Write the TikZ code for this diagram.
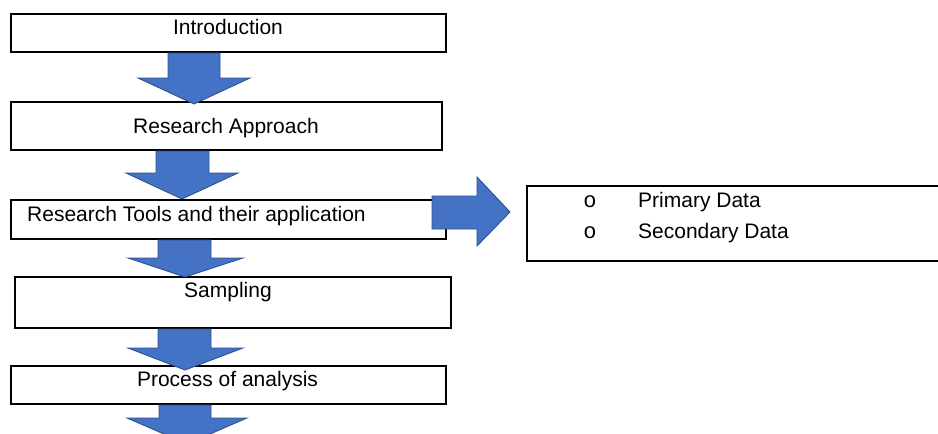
\documentclass[tikz,border=0pt]{standalone}
\usepackage{fontspec}
\setmainfont{Liberation Sans}
\newfontfamily\bulletfont{Liberation Mono}
\definecolor{arrowfill}{HTML}{4472C4}
\definecolor{arrowedge}{HTML}{2F528F}
\tikzset{
  stagebox/.style={draw=black, line width=1.6pt, fill=white},
  blockarrow/.style={fill=arrowfill, draw=arrowedge, line width=0.9pt, line join=miter},
  lbl/.style={inner sep=0pt, font=\fontsize{21}{25}\selectfont},
  bul/.style={inner sep=0pt, font=\bulletfont\fontsize{22}{25}\selectfont}
}
\begin{document}
\begin{tikzpicture}[x=1pt,y=-1pt]
\useasboundingbox (0,0) rectangle (938,434);
\clip (0,0) rectangle (938,434);

% stage boxes
\draw[stagebox] (11,14) rectangle (446,52);
\draw[stagebox] (11,102) rectangle (442,150);
\draw[stagebox] (11,200) rectangle (446,239);
\draw[stagebox] (15,277) rectangle (451,328);
\draw[stagebox] (11,366) rectangle (446,404);
\draw[stagebox] (527,186) rectangle (970,261);

% labels
\node[lbl, anchor=base] (tIntro) at (228,34) {Introduction};
\node[lbl, anchor=base] (tAppr) at (226,133) {Research Approach};
\node[lbl, anchor=base west] (tTools) at (27,221) {Research Tools and their application};
\node[lbl, anchor=base] (tSamp) at (228,297) {Sampling};
\node[lbl, anchor=base] (tProc) at (227.5,386) {Process of analysis};

\node[bul, anchor=base] (b1) at (590,207) {o};
\node[lbl, anchor=base west] (tPrim) at (638,207) {Primary Data};
\node[bul, anchor=base] (b2) at (590,238) {o};
\node[lbl, anchor=base west] (tSec) at (638,238) {Secondary Data};

% downward block arrows between the stages
\draw[blockarrow] (168,53) -- (220,53) -- (220,78) -- (250,78) -- (194,104)
  -- (138,78) -- (168,78) -- cycle;
\draw[blockarrow] (156,151) -- (209,151) -- (209,173) -- (238,173) -- (182,199)
  -- (126,173) -- (156,173) -- cycle;
\draw[blockarrow] (158,240) -- (211,240) -- (211,258) -- (243,258) -- (185,277)
  -- (128,258) -- (158,258) -- cycle;
\draw[blockarrow] (158,329) -- (211,329) -- (211,348) -- (243,348) -- (185,370)
  -- (128,348) -- (158,348) -- cycle;
\draw[blockarrow] (159,405) -- (211,405) -- (211,418) -- (247,418) -- (187,444)
  -- (127,418) -- (159,418) -- cycle;

% sideways block arrow to the data box
\draw[blockarrow] (432,196) -- (477,196) -- (477,177) -- (510,212) -- (477,246)
  -- (477,229) -- (432,229) -- cycle;
\end{tikzpicture}
\end{document}
